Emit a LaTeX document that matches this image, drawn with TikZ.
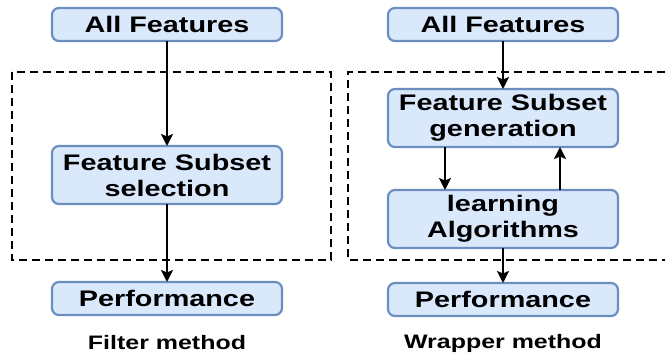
\documentclass[tikz,border=0pt]{standalone}
\usepackage{fontspec}
\setmainfont{Liberation Sans}[FakeStretch=1.28]
\usepackage{xcolor}
\usepackage{tikz}
\usetikzlibrary{arrows.meta, positioning}

\definecolor{boxfill}{HTML}{DAE8FC}
\definecolor{boxline}{HTML}{6C8EBF}

\begin{document}
\begin{tikzpicture}[
  x=1pt, y=1pt,
  box/.style={rectangle, rounded corners=7pt, draw=boxline, line width=2.2pt,
              fill=boxfill, minimum width=230pt, minimum height=33pt,
              align=center, inner sep=0pt, outer sep=0pt,
              font=\fontsize{22.5}{26}\selectfont\bfseries},
  tallbox/.style={box, minimum height=58pt},
  arrow/.style={-{Stealth[length=12pt, width=12pt, inset=2.5pt]}, line width=2.8pt, black},
  frame/.style={draw=black, line width=2.4pt, dash pattern=on 8pt off 5pt},
  caption/.style={font=\fontsize{19.5}{23}\selectfont\bfseries}
]
\useasboundingbox (0,0) rectangle (665,-357);

% filter method
\node[box] (allL) at (167,-24.5) {All Features};
\node[tallbox, below=105pt of allL] (selL) {Feature Subset\\selection};
\node[box, below=78pt of selL] (perfL) {Performance};
\node[caption] (filt) at (167,-343) {Filter method};
\draw[frame] (12,-72) rectangle (331,-260);

% wrapper method
\node[box] (allR) at (503,-24.5) {All Features};
\node[tallbox, below=48pt of allR] (genR) {Feature Subset\\generation};
\node[tallbox, below=43pt of genR] (algR) {learning\\Algorithms};
\node[box, below=35pt of algR] (perfR) {Performance};
\node[caption] (wrap) at (503,-343) {Wrapper method};
\draw[frame] (665,-72) -- (348,-72) -- (348,-260) -- (665,-260);

\draw[arrow] (allL) -- (selL);
\draw[arrow] (selL) -- (perfL);
\draw[arrow] (allR) -- (genR);
\draw[arrow] ([xshift=-58pt]genR.south) -- ([xshift=-58pt]algR.north);
\draw[arrow] ([xshift=57pt]algR.north) -- ([xshift=57pt]genR.south);
\draw[arrow] (algR) -- (perfR);

\end{tikzpicture}
\end{document}
